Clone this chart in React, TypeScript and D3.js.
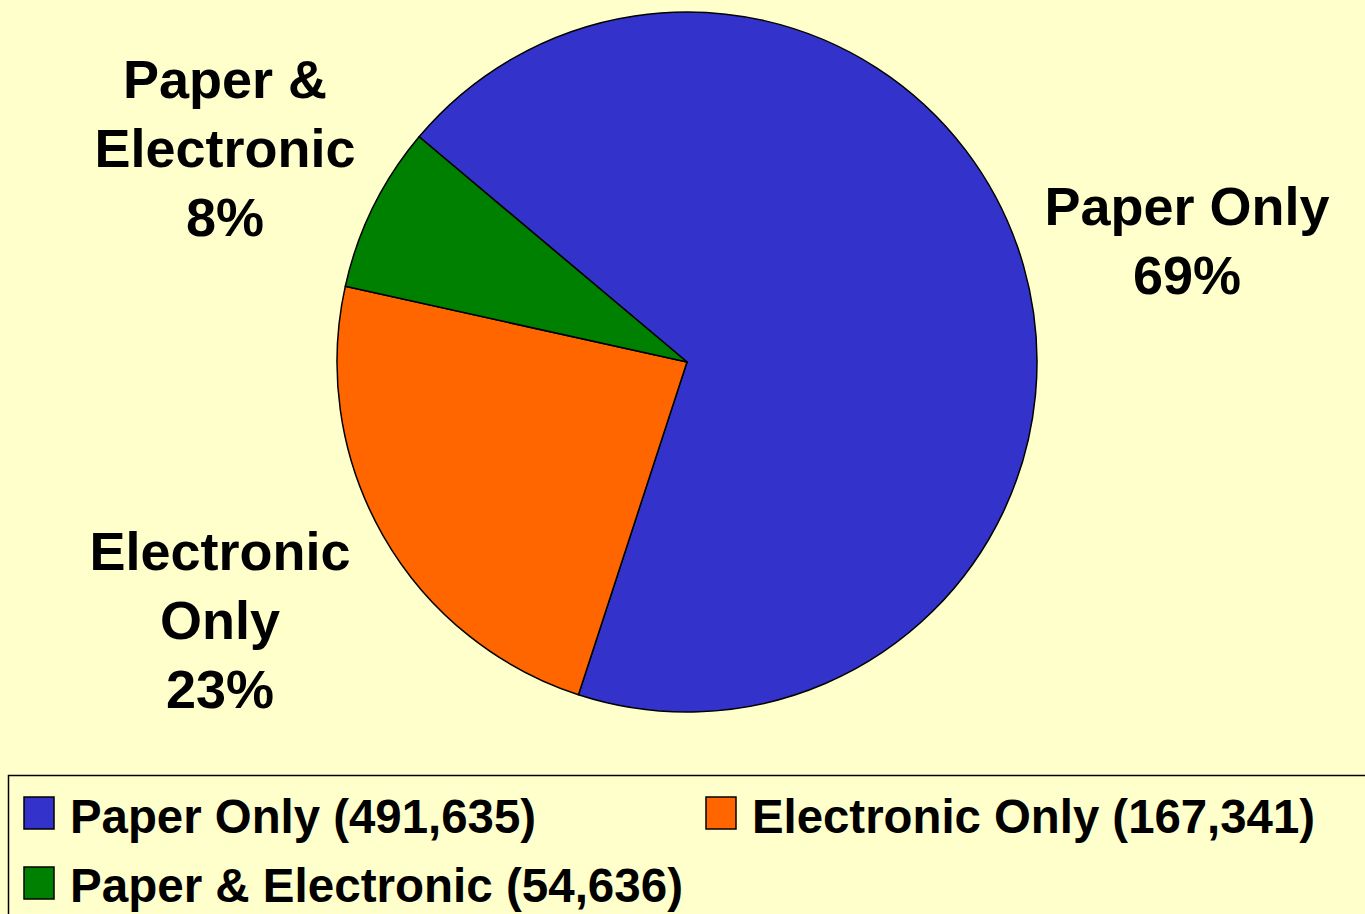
import React from "react";
import * as d3 from "d3";

const categories = ["Paper Only", "Electronic Only", "Paper & Electronic"];
const values = [491635, 167341, 54636];
const colors = ["#3333CC", "#FF6600", "#008000"];
const sliceLabelLines = [["Paper Only"], ["Electronic", "Only"], ["Paper &", "Electronic"]];

const W = 1365;
const H = 914;

export default function App() {
  const cx = 687, cy = 362, r = 350;
  const total = d3.sum(values);
  const startA = -49.95 * Math.PI / 180;
  const pie = d3.pie<number>().sort(null).startAngle(startA).endAngle(startA + 2 * Math.PI);
  const arcs = pie(values);
  const arcGen = d3.arc<d3.PieArcDatum<number>>().innerRadius(0).outerRadius(r);
  const fmt = d3.format(",");
  const pct = (v: number) => Math.round((v / total) * 100) + "%";

  const labelLayout = [
    { x: 1187, y0: 225 },
    { x: 220, y0: 570 },
    { x: 225, y0: 98 },
  ];
  const lineH = 69;
  const font = "'Liberation Sans', Arial, sans-serif";

  const legendLayout = [
    { sx: 24, sy: 797, tx: 70, ty: 833, tw: 466 },
    { sx: 706, sy: 797, tx: 752, ty: 833, tw: 563 },
    { sx: 24, sy: 867, tx: 70, ty: 902, tw: 613 },
  ];

  return (
    <svg width={W} height={H} style={{ position: "absolute", left: 0, top: 0 }}>
      <rect x={0} y={0} width={W} height={H} fill="#FFFFCC" />
      <g transform={`translate(${cx},${cy})`}>
        {arcs.map((a, i) => (
          <path key={i} d={arcGen(a) || ""} fill={colors[i]} stroke="#000" strokeWidth={1.5} strokeLinejoin="round" />
        ))}
      </g>
      {categories.map((c, i) => {
        const L = labelLayout[i];
        const lines = [...sliceLabelLines[i], pct(values[i])];
        return (
          <text key={c} fontFamily={font} fontWeight="bold" fontSize={54} textAnchor="middle" fill="#000">
            {lines.map((t, j) => (
              <tspan key={j} x={L.x} y={L.y0 + j * lineH}>{t}</tspan>
            ))}
          </text>
        );
      })}
      <rect x={8.5} y={775.5} width={W + 10} height={H} fill="#FFFFCC" stroke="#000" strokeWidth={1.5} />
      {categories.map((c, i) => {
        const L = legendLayout[i];
        return (
          <g key={c}>
            <rect x={L.sx} y={L.sy} width={30} height={32} fill={colors[i]} stroke="#000" strokeWidth={1.5} />
            <text x={L.tx} y={L.ty} fontFamily={font} fontWeight="bold" fontSize={48} textLength={L.tw} lengthAdjust="spacingAndGlyphs" fill="#000">
              {`${c} (${fmt(values[i])})`}
            </text>
          </g>
        );
      })}
    </svg>
  );
}
